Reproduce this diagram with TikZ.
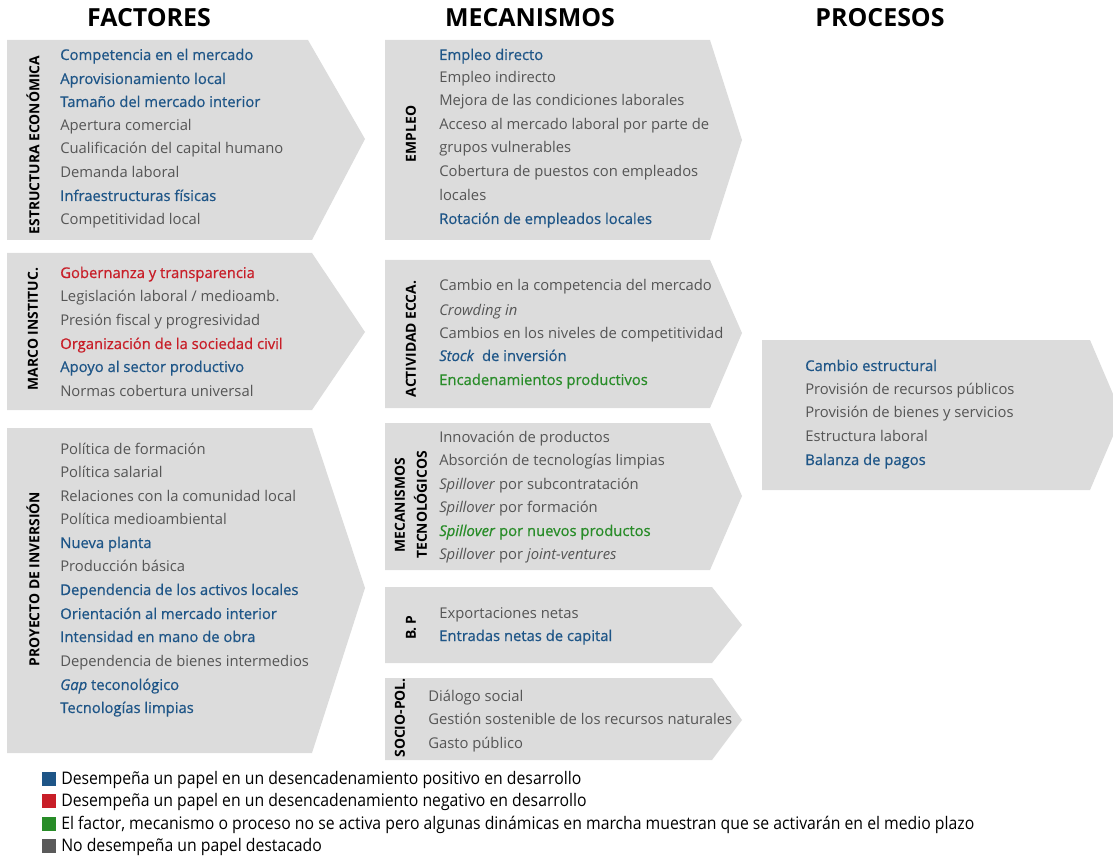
\documentclass[tikz,border=0pt]{standalone}
\usepackage{fontspec}
\setmainfont{Open Sans}
\newfontfamily\semifont[FakeBold=0.6]{Open Sans}
\usepackage{graphicx}

\definecolor{blu}{RGB}{30,85,135}
\definecolor{rd}{RGB}{200,30,40}
\definecolor{gn}{RGB}{40,140,40}
\definecolor{gry}{RGB}{85,85,85}
\definecolor{boxgray}{RGB}{220,220,220}
\definecolor{keygray}{RGB}{90,90,90}

\newcommand{\itemfont}{\fontsize{11.1}{13}\selectfont}
\newcommand{\keyfont}{\fontsize{13}{15}\selectfont}

\begin{document}
\begin{tikzpicture}[x=0.75pt,y=-0.75pt,
  item/.style={anchor=base west,inner sep=0pt,font=\itemfont,text=gry},
  bl/.style={text=blu,font=\itemfont\semifont},
  rdt/.style={text=rd,font=\itemfont\semifont},
  gnt/.style={text=gn,font=\itemfont\semifont},
  sidelabel/.style={rotate=90,inner sep=0pt,align=center,font=\bfseries\fontsize{10.4}{16.5}\selectfont},
  heading/.style={inner sep=0pt,font=\bfseries\fontsize{18.7}{20}\selectfont},
  keybox/.style={inner sep=0pt,minimum size=10.5pt},
  keytext/.style={anchor=base west,inner sep=0pt,font=\keyfont}]
\clip (0,0) rectangle (1113,859);

% headings
\node[heading] (hfac) at (149,18) {FACTORES};
\node[heading] (hmec) at (530,18) {MECANISMOS};
\node[heading] (hpro) at (880,18) {PROCESOS};

% factores
\fill[boxgray] (7,40) -- (308,40) -- (365,139) -- (312,240) -- (7,240) -- cycle;
\fill[boxgray] (7,253) -- (312,253) -- (365,332) -- (312,410) -- (7,410) -- cycle;
\fill[boxgray] (7,428) -- (312,428) -- (365,588) -- (312,753) -- (7,753) -- cycle;

\node[sidelabel] (ee) at (33,145) {ESTRUCTURA ECONÓMICA};
\node[item,bl] (ee1) at (60,60) {Competencia en el mercado};
\node[item,bl] (ee2) at (60,84) {Aprovisionamiento local};
\node[item,bl] (ee3) at (60,107) {Tamaño del mercado interior};
\node[item] (ee4) at (60,131) {Apertura comercial};
\node[item] (ee5) at (60,154) {Cualificación del capital humano};
\node[item] (ee6) at (60,178) {Demanda laboral};
\node[item,bl] (ee7) at (60,201) {Infraestructuras físicas};
\node[item] (ee8) at (60,225) {Competitividad local};

\node[sidelabel] (mi) at (33,329) {MARCO INSTITUC.};
\node[item,rdt] (mi1) at (60,278) {Gobernanza y transparencia};
\node[item] (mi2) at (60,301) {Legislación laboral / medioamb.};
\node[item] (mi3) at (60,325) {Presión fiscal y progresividad};
\node[item,rdt] (mi4) at (60,349) {Organización de la sociedad civil};
\node[item,bl] (mi5) at (60,372) {Apoyo al sector productivo};
\node[item] (mi6) at (60,396) {Normas cobertura universal};

\node[sidelabel] (pi) at (33,579) {PROYECTO DE INVERSIÓN};
\node[item] (pi1) at (60,454) {Política de formación};
\node[item] (pi2) at (60,477.5) {Política salarial};
\node[item] (pi3) at (60,501) {Relaciones con la comunidad local};
\node[item] (pi4) at (60,524.5) {Política medioambiental};
\node[item,bl] (pi5) at (60,548) {Nueva planta};
\node[item] (pi6) at (60,571.5) {Producción básica};
\node[item,bl] (pi7) at (60,595) {Dependencia de los activos locales};
\node[item,bl] (pi8) at (60,619) {Orientación al mercado interior};
\node[item,bl] (pi9) at (60,642) {Intensidad en mano de obra};
\node[item] (pi10) at (60,666) {Dependencia de bienes intermedios};
\node[item,bl] (pi11) at (60,690) {\textit{Gap} teconológico};
\node[item,bl] (pi12) at (60,713) {Tecnologías limpias};

% mecanismos
\fill[boxgray] (385,40) -- (710,40) -- (742,140) -- (710,240) -- (385,240) -- cycle;
\fill[boxgray] (385,260) -- (710,260) -- (742,333) -- (710,408) -- (385,408) -- cycle;
\fill[boxgray] (385,423) -- (710,423) -- (742,496) -- (710,570) -- (385,570) -- cycle;
\fill[boxgray] (385,587) -- (712,587) -- (742,625) -- (712,663) -- (385,663) -- cycle;
\fill[boxgray] (385,678) -- (712,678) -- (742,720) -- (712,760) -- (385,760) -- cycle;

\node[sidelabel] (em) at (411,134) {EMPLEO};
\node[item,bl] (em1) at (439,60) {Empleo directo};
\node[item] (em2) at (439,83) {Empleo indirecto};
\node[item] (em3) at (439,106) {Mejora de las condiciones laborales};
\node[item] (em4) at (439,130) {Acceso al mercado laboral por parte de};
\node[item] (em5) at (439,153) {grupos vulnerables};
\node[item] (em6) at (439,177) {Cobertura de puestos con empleados};
\node[item] (em7) at (439,201) {locales};
\node[item,bl] (em8) at (439,224) {Rotación de empleados locales};

\node[sidelabel] (ae) at (411,339) {ACTIVIDAD ECCA.};
\node[item] (ae1) at (439,291) {Cambio en la competencia del mercado};
\node[item] (ae2) at (439,315) {\textit{Crowding in}};
\node[item] (ae3) at (439,338) {Cambios en los niveles de competitividad};
\node[item,bl] (ae4) at (439,361) {\textit{Stock} \ de inversión};
\node[item,gnt] (ae5) at (439,385) {Encadenamientos productivos};

\node[sidelabel] (mt) at (411,505) {MECANISMOS\\TECNOLÓGICOS};
\node[item] (mt1) at (439,442) {Innovación de productos};
\node[item] (mt2) at (439,465) {Absorción de tecnologías limpias};
\node[item] (mt3) at (439,489) {\textit{Spillover} por subcontratación};
\node[item] (mt4) at (439,512) {\textit{Spillover} por formación};
\node[item,gnt] (mt5) at (439,536) {\textit{Spillover} por nuevos productos};
\node[item] (mt6) at (439,559) {\textit{Spillover} por \textit{joint-ventures}};

\node[sidelabel] (bp) at (411,628) {B.\,P};
\node[item] (bp1) at (439,618) {Exportaciones netas};
\node[item,bl] (bp2) at (439,641) {Entradas netas de capital};

\node[sidelabel] (sp) at (400,718) {SOCIO-POL.};
\node[item] (sp1) at (428,701) {Diálogo social};
\node[item] (sp2) at (428,724) {Gestión sostenible de los recursos naturales};
\node[item] (sp3) at (428,748) {Gasto público};

% procesos
\fill[boxgray] (762,340) -- (1090,340) -- (1122,415) -- (1090,490) -- (762,490) -- cycle;
\node[item,bl] (pr1) at (805,371) {Cambio estructural};
\node[item] (pr2) at (805,394) {Provisión de recursos públicos};
\node[item] (pr3) at (805,417) {Provisión de bienes y servicios};
\node[item] (pr4) at (805,441) {Estructura laboral};
\node[item,bl] (pr5) at (805,465) {Balanza de pagos};

% leyenda
\node[keybox,fill=blu] (k1) at (49,779) {};
\node[keybox,fill=rd] (k2) at (49,801) {};
\node[keybox,fill=gn] (k3) at (49,824) {};
\node[keybox,fill=keygray] (k4) at (49,846) {};
\node[keytext] (t1) at (61,784) {\scalebox{0.91}[1]{Desempeña un papel en un desencadenamiento positivo en desarrollo}};
\node[keytext] (t2) at (61,806) {\scalebox{0.91}[1]{Desempeña un papel en un desencadenamiento negativo en desarrollo}};
\node[keytext] (t3) at (61,829) {\scalebox{0.91}[1]{El factor, mecanismo o proceso no se activa pero algunas dinámicas en marcha muestran que se activarán en el medio plazo}};
\node[keytext] (t4) at (61,851) {\scalebox{0.91}[1]{No desempeña un papel destacado}};
\end{tikzpicture}
\end{document}
